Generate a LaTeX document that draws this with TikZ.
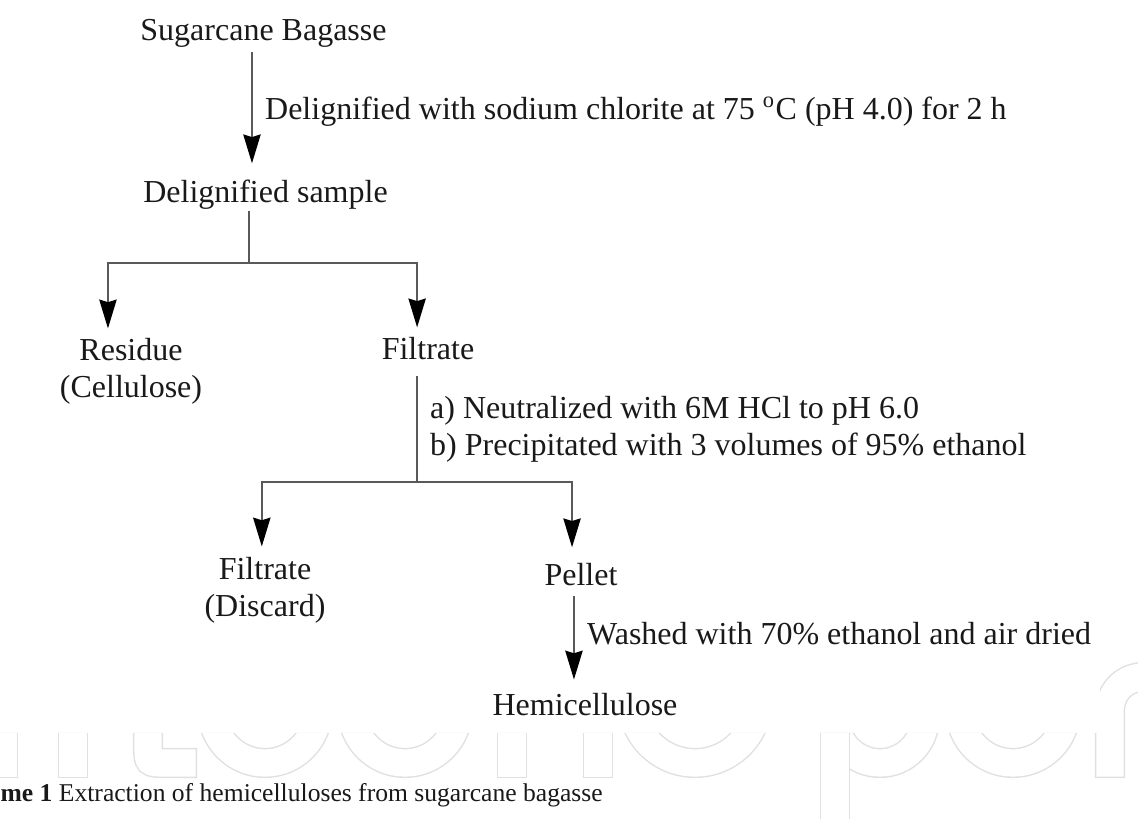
\documentclass[tikz,border=0pt]{standalone}
\usepackage{fontspec}
\setmainfont{Liberation Serif}[Ligatures={TeX,NoCommon}]
\usetikzlibrary{arrows.meta,positioning}

\begin{document}
\begin{tikzpicture}[x=0.3125pt, y=-0.3125pt, text=black!90,
                    >={Stealth[length=9pt, width=5.4pt, inset=0.8pt, color=black]},
                    font=\fontsize{10}{11.6}\selectfont]
    \tikzstyle{pair} = [inner sep=0pt, align=center, anchor=base]
    \tikzstyle{stage} = [pair, text height=7pt, text depth=2.2pt]
    \tikzstyle{note} = [right, inner sep=0pt, xshift=3.8pt, align=left]
    \tikzstyle{flow} = [draw=black!65, line width=0.65pt]
    \tikzstyle{logo} = [draw=black!12, line width=0.45pt, double=white,
                        double distance=8.5pt, line cap=rect]

    \useasboundingbox (0,0) rectangle (1138,819);

    % faint watermark behind the caption
    \begin{scope}
      \clip (0,733) rectangle (1138,819) (1100,640) rectangle (1138,819);
      \draw [logo] (3,690) -- (3,763) (73,690) -- (73,763);
      \draw [logo] (148,690) -- (148,745) .. controls (148,763) .. (166,763) -- (182,763);
      \draw [logo] (265,710) circle [radius=53];
      \draw [logo] (405,710) circle [radius=53];
      \draw [logo] (512,690) -- (512,763) (598,690) -- (598,763);
      \draw [logo] (695,700) circle [radius=63];
      \draw [logo] (880,718) circle [radius=45];
      \draw [logo] (835,690) -- (835,840);
      \draw [logo] (1013,710) circle [radius=53];
      \draw [logo] (1110,763) -- (1110,712) .. controls (1110,665) and (1180,665) .. (1180,712) -- (1180,763);
    \end{scope}

    \node (bagasse)  [stage] at (263.5,41) {Sugarcane Bagasse};
    \node (delig)    [stage] at (265.5,203) {Delignified sample};
    \node (residue)  [pair]  at (131,398) {Residue\\(Cellulose)};
    \node (filtrate) [stage] at (428,360) {Filtrate};
    \node (discard)  [pair]  at (265,617) {Filtrate\\(Discard)};
    \node (pellet)   [stage] at (581,586) {Pellet};
    \node (hemi)     [stage] at (585,716) {Hemicellulose};
    \node (caption)  [anchor=base west, inner sep=0pt,
                      font=\fontsize{8}{9.6}\selectfont] at (0,802)
                     {\textbf{me 1} Extraction of hemicelluloses from sugarcane bagasse};
    \coordinate (split1) at (249,263);
    \coordinate (split2) at (417,482);

    \draw [flow, ->, shorten <=1pt, shorten >=5.2pt]
      ([xshift=-3.6pt]bagasse.south) -- ([xshift=-3.6pt]bagasse.south |- delig.north)
      node [note, pos=0.48] {Delignified with sodium chlorite at 75 \textsuperscript{o}C (pH 4.0) for 2 h};
    \draw [flow] (delig.south -| split1) -- (split1);
    \draw [flow, ->, shorten >=3pt] (split1) -| ([xshift=-7.2pt]residue.north);
    \draw [flow, ->, shorten >=3pt] (split1) -| ([xshift=-3.4pt]filtrate.north);
    \draw [flow, shorten <=2.5pt] (filtrate.south -| split2) -- (split2)
      node [note, pos=0.54] {a) Neutralized with 6M HCl to pH 6.0\\b) Precipitated with 3 volumes of 95\% ethanol};
    \draw [flow, ->, shorten >=3.3pt] (split2) -| ([xshift=-1pt]discard.north);
    \draw [flow, ->, shorten >=4.9pt] (split2) -| ([xshift=-2.8pt]pellet.north);
    \draw [flow, ->, shorten <=0.6pt, shorten >=4.2pt]
      ([xshift=-2.2pt]pellet.south) -- ([xshift=-2.2pt]pellet.south |- hemi.north)
      node [note, pos=0.4] {Washed with 70\% ethanol and air dried};
\end{tikzpicture}
\end{document}
